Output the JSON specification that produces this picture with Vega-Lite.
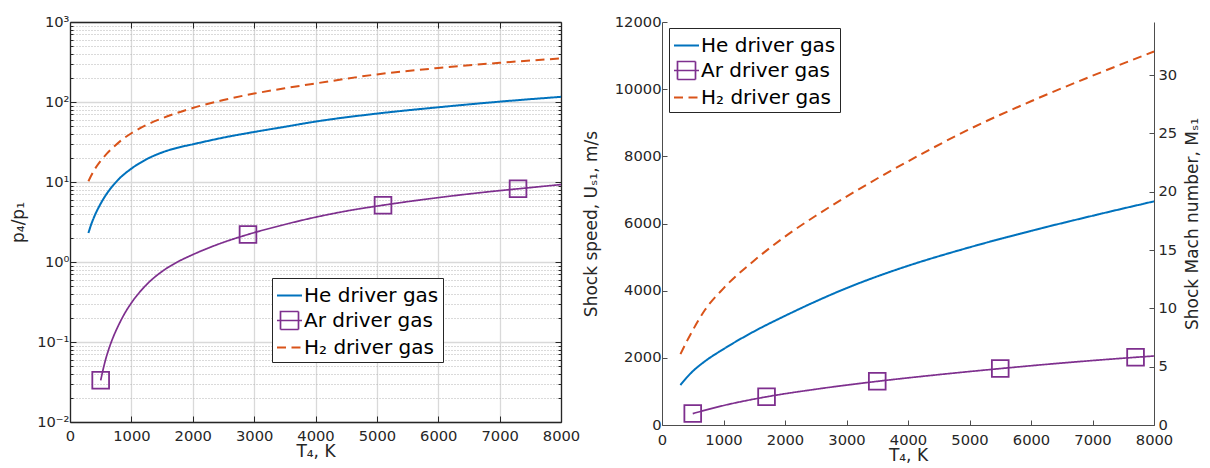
{
  "$schema": "https://vega.github.io/schema/vega-lite/v6.json",
  "background": "white",
  "padding": {"left": 9, "top": 14, "right": 0, "bottom": 0},
  "bounds": "flush",
  "spacing": 101,
  "datasets": {
    "pressureRatio": [
      {"gas": "He driver gas", "T": 300, "p41": 2.3},
      {"gas": "He driver gas", "T": 350, "p41": 3.02},
      {"gas": "He driver gas", "T": 400, "p41": 3.76},
      {"gas": "He driver gas", "T": 500, "p41": 5.37},
      {"gas": "He driver gas", "T": 600, "p41": 7.16},
      {"gas": "He driver gas", "T": 700, "p41": 9.02},
      {"gas": "He driver gas", "T": 800, "p41": 10.96},
      {"gas": "He driver gas", "T": 1000, "p41": 14.7},
      {"gas": "He driver gas", "T": 1250, "p41": 19.3},
      {"gas": "He driver gas", "T": 1500, "p41": 23.4},
      {"gas": "He driver gas", "T": 1750, "p41": 26.8},
      {"gas": "He driver gas", "T": 2000, "p41": 29.6},
      {"gas": "He driver gas", "T": 2500, "p41": 35.9},
      {"gas": "He driver gas", "T": 3000, "p41": 42.2},
      {"gas": "He driver gas", "T": 3500, "p41": 49},
      {"gas": "He driver gas", "T": 4000, "p41": 56.9},
      {"gas": "He driver gas", "T": 5000, "p41": 71.6},
      {"gas": "He driver gas", "T": 6000, "p41": 85.9},
      {"gas": "He driver gas", "T": 7000, "p41": 101},
      {"gas": "He driver gas", "T": 8000, "p41": 116},
      {"gas": "Ar driver gas", "T": 500, "p41": 0.0332, "mk": 1},
      {"gas": "Ar driver gas", "T": 570, "p41": 0.0565},
      {"gas": "Ar driver gas", "T": 650, "p41": 0.0895},
      {"gas": "Ar driver gas", "T": 706, "p41": 0.116},
      {"gas": "Ar driver gas", "T": 800, "p41": 0.1675},
      {"gas": "Ar driver gas", "T": 900, "p41": 0.234},
      {"gas": "Ar driver gas", "T": 1000, "p41": 0.308},
      {"gas": "Ar driver gas", "T": 1250, "p41": 0.524},
      {"gas": "Ar driver gas", "T": 1500, "p41": 0.762},
      {"gas": "Ar driver gas", "T": 1750, "p41": 1.0},
      {"gas": "Ar driver gas", "T": 2000, "p41": 1.236},
      {"gas": "Ar driver gas", "T": 2450, "p41": 1.706},
      {"gas": "Ar driver gas", "T": 2900, "p41": 2.21, "mk": 1},
      {"gas": "Ar driver gas", "T": 3450, "p41": 2.88},
      {"gas": "Ar driver gas", "T": 4000, "p41": 3.63},
      {"gas": "Ar driver gas", "T": 4500, "p41": 4.33},
      {"gas": "Ar driver gas", "T": 5100, "p41": 5.13, "mk": 1},
      {"gas": "Ar driver gas", "T": 6000, "p41": 6.38},
      {"gas": "Ar driver gas", "T": 7000, "p41": 7.8},
      {"gas": "Ar driver gas", "T": 7300, "p41": 8.22, "mk": 1},
      {"gas": "Ar driver gas", "T": 8000, "p41": 9.29},
      {"gas": "H₂ driver gas", "T": 300, "p41": 10.2},
      {"gas": "H₂ driver gas", "T": 400, "p41": 14.3},
      {"gas": "H₂ driver gas", "T": 500, "p41": 18.4},
      {"gas": "H₂ driver gas", "T": 600, "p41": 22.6},
      {"gas": "H₂ driver gas", "T": 700, "p41": 26.9},
      {"gas": "H₂ driver gas", "T": 850, "p41": 33.9},
      {"gas": "H₂ driver gas", "T": 1000, "p41": 40.7},
      {"gas": "H₂ driver gas", "T": 1250, "p41": 51.9},
      {"gas": "H₂ driver gas", "T": 1500, "p41": 62.4},
      {"gas": "H₂ driver gas", "T": 2000, "p41": 84.1},
      {"gas": "H₂ driver gas", "T": 2500, "p41": 105.9},
      {"gas": "H₂ driver gas", "T": 3000, "p41": 127.4},
      {"gas": "H₂ driver gas", "T": 3500, "p41": 148.6},
      {"gas": "H₂ driver gas", "T": 4000, "p41": 170.6},
      {"gas": "H₂ driver gas", "T": 5000, "p41": 221.3},
      {"gas": "H₂ driver gas", "T": 6000, "p41": 266.1},
      {"gas": "H₂ driver gas", "T": 7000, "p41": 309},
      {"gas": "H₂ driver gas", "T": 8000, "p41": 350.8}
    ],
    "shockSpeed": [
      {"gas": "He driver gas", "T": 300, "Us": 1190},
      {"gas": "He driver gas", "T": 400, "Us": 1410},
      {"gas": "He driver gas", "T": 500, "Us": 1600},
      {"gas": "He driver gas", "T": 700, "Us": 1900},
      {"gas": "He driver gas", "T": 1000, "Us": 2260},
      {"gas": "He driver gas", "T": 1500, "Us": 2790},
      {"gas": "He driver gas", "T": 2000, "Us": 3250},
      {"gas": "He driver gas", "T": 2500, "Us": 3680},
      {"gas": "He driver gas", "T": 3000, "Us": 4075},
      {"gas": "He driver gas", "T": 3500, "Us": 4425},
      {"gas": "He driver gas", "T": 4000, "Us": 4740},
      {"gas": "He driver gas", "T": 5000, "Us": 5290},
      {"gas": "He driver gas", "T": 6000, "Us": 5780},
      {"gas": "He driver gas", "T": 7000, "Us": 6230},
      {"gas": "He driver gas", "T": 8000, "Us": 6660},
      {"gas": "Ar driver gas", "T": 500, "Us": 340, "mk": 1},
      {"gas": "Ar driver gas", "T": 1000, "Us": 580},
      {"gas": "Ar driver gas", "T": 1700, "Us": 840, "mk": 1},
      {"gas": "Ar driver gas", "T": 2500, "Us": 1065},
      {"gas": "Ar driver gas", "T": 3500, "Us": 1300, "mk": 1},
      {"gas": "Ar driver gas", "T": 4500, "Us": 1500},
      {"gas": "Ar driver gas", "T": 5500, "Us": 1680, "mk": 1},
      {"gas": "Ar driver gas", "T": 6500, "Us": 1845},
      {"gas": "Ar driver gas", "T": 7700, "Us": 2016, "mk": 1},
      {"gas": "Ar driver gas", "T": 8000, "Us": 2055},
      {"gas": "H₂ driver gas", "T": 300, "Us": 2110},
      {"gas": "H₂ driver gas", "T": 400, "Us": 2480},
      {"gas": "H₂ driver gas", "T": 500, "Us": 2820},
      {"gas": "H₂ driver gas", "T": 700, "Us": 3430},
      {"gas": "H₂ driver gas", "T": 1000, "Us": 4070},
      {"gas": "H₂ driver gas", "T": 1500, "Us": 4900},
      {"gas": "H₂ driver gas", "T": 2000, "Us": 5610},
      {"gas": "H₂ driver gas", "T": 2500, "Us": 6230},
      {"gas": "H₂ driver gas", "T": 3000, "Us": 6800},
      {"gas": "H₂ driver gas", "T": 3500, "Us": 7340},
      {"gas": "H₂ driver gas", "T": 4000, "Us": 7850},
      {"gas": "H₂ driver gas", "T": 5000, "Us": 8810},
      {"gas": "H₂ driver gas", "T": 6000, "Us": 9640},
      {"gas": "H₂ driver gas", "T": 7000, "Us": 10400},
      {"gas": "H₂ driver gas", "T": 8000, "Us": 11120}
    ]
  },
  "hconcat": [
    {
      "width": 491,
      "height": 400,
      "data": {"name": "pressureRatio"},
      "layer": [
        {
          "mark": {"type": "line", "strokeCap": "butt", "interpolate": "monotone"},
          "encoding": {
            "x": {
              "field": "T", "type": "quantitative",
              "scale": {"domain": [0, 8000], "nice": false, "zero": false},
              "axis": {
                "orient": "bottom",
                "values": [0, 1000, 2000, 3000, 4000, 5000, 6000, 7000, 8000],
                "format": "d",
                "tickSize": -6,
                "labelPadding": 12,
                "grid": true, "gridColor": "#d9d9d9", "gridWidth": 1.3,
                "domainWidth": 1.3,
                "title": "T₄, K", "titlePadding": 1
              }
            },
            "y": {
              "field": "p41", "type": "quantitative",
              "scale": {"type": "log", "domain": [0.01, 1000], "nice": false},
              "axis": {
                "orient": "left",
                "values": [0.01,0.02,0.03,0.04,0.05,0.06,0.07,0.08,0.09,0.1,0.2,0.3,0.4,0.5,0.6,0.7,0.8,0.9,1,2,3,4,5,6,7,8,9,10,20,30,40,50,60,70,80,90,100,200,300,400,500,600,700,800,900,1000],
                "labelExpr": "datum.value == 0.01 ? '10⁻²' : datum.value == 0.1 ? '10⁻¹' : datum.value == 1 ? '10⁰' : datum.value == 10 ? '10¹' : datum.value == 100 ? '10²' : datum.value == 1000 ? '10³' : ''",
                "tickSize": {"condition": {"test": "indexof([0.01,0.1,1,10,100,1000], datum.value) >= 0", "value": -6}, "value": -3},
                "labelPadding": 7,
                "grid": true,
                "gridColor": {"condition": {"test": "indexof([0.01,0.1,1,10,100,1000], datum.value) >= 0", "value": "#d9d9d9"}, "value": "#b5b5b5"},
                "gridDash": {"condition": {"test": "indexof([0.01,0.1,1,10,100,1000], datum.value) >= 0", "value": []}, "value": [1, 2]},
                "gridWidth": {"condition": {"test": "indexof([0.01,0.1,1,10,100,1000], datum.value) >= 0", "value": 1.3}, "value": 1},
                "domainWidth": 1.3,
                "title": "p₄/p₁", "titlePadding": 9
              }
            },
            "color": {
              "field": "gas", "type": "nominal",
              "scale": {"domain": ["He driver gas", "Ar driver gas", "H₂ driver gas"], "range": ["#0072BD", "#7E2F8E", "#D95319"]},
              "legend": {
                "orient": "none", "legendX": 202, "legendY": 256, "title": null,
                "fillColor": "white", "strokeColor": "#262626", "padding": 4,
                "labelFont": "DejaVu Sans", "labelFontSize": 20, "labelColor": "#000000", "labelOffset": 1, "labelLimit": 400,
                "symbolSize": 625, "symbolStrokeWidth": 2, "rowPadding": 1
              }
            },
            "strokeDash": {
              "field": "gas", "type": "nominal",
              "scale": {"domain": ["He driver gas", "Ar driver gas", "H₂ driver gas"], "range": [[1, 0], [1, 0], [9, 5.5]]},
              "legend": {
                "orient": "none", "legendX": 202, "legendY": 256, "title": null,
                "fillColor": "white", "strokeColor": "#262626", "padding": 4,
                "labelFont": "DejaVu Sans", "labelFontSize": 20, "labelColor": "#000000", "labelOffset": 1, "labelLimit": 400,
                "symbolSize": 625, "symbolStrokeWidth": 2, "rowPadding": 1
              }
            },
            "strokeWidth": {
              "field": "gas", "type": "nominal",
              "scale": {"type": "ordinal", "domain": ["He driver gas", "Ar driver gas", "H₂ driver gas"], "range": [2, 1.7, 2]},
              "legend": null
            }
          }
        },
        {
          "transform": [{"filter": "datum.mk == 1"}],
          "mark": {"type": "point", "shape": "square", "size": 280, "filled": false, "color": "#7E2F8E", "strokeWidth": 1.8, "opacity": 1},
          "encoding": {
            "x": {
              "field": "T", "type": "quantitative",
              "axis": {"orient": "top", "values": [1000, 2000, 3000, 4000, 5000, 6000, 7000], "labels": false, "tickSize": -6, "grid": false, "domainWidth": 1.3, "title": null}
            },
            "y": {
              "field": "p41", "type": "quantitative",
              "axis": {
                "orient": "right",
                "values": [0.01,0.02,0.03,0.04,0.05,0.06,0.07,0.08,0.09,0.1,0.2,0.3,0.4,0.5,0.6,0.7,0.8,0.9,1,2,3,4,5,6,7,8,9,10,20,30,40,50,60,70,80,90,100,200,300,400,500,600,700,800,900,1000],
                "labels": false, "grid": false, "domainWidth": 1.3, "title": null,
                "tickSize": {"condition": {"test": "indexof([0.01,0.1,1,10,100,1000], datum.value) >= 0", "value": -6}, "value": -3}
              }
            }
          }
        },
        {
          "transform": [{"filter": "false"}],
          "mark": {"type": "point", "filled": false, "opacity": 1},
          "encoding": {
            "color": {"field": "gas", "type": "nominal"},
            "shape": {
              "field": "gas", "type": "nominal",
              "scale": {"domain": ["He driver gas", "Ar driver gas", "H₂ driver gas"], "range": ["stroke", "M-1,0H1M-0.72,-0.72H0.72V0.72H-0.72Z", "stroke"]},
              "legend": {
                "orient": "none", "legendX": 202, "legendY": 256, "title": null,
                "fillColor": "white", "strokeColor": "#262626", "padding": 4,
                "labelFont": "DejaVu Sans", "labelFontSize": 20, "labelColor": "#000000", "labelOffset": 1, "labelLimit": 400,
                "symbolSize": 625, "symbolStrokeWidth": 2, "rowPadding": 1
              }
            }
          }
        }
      ],
      "resolve": {"axis": {"x": "independent", "y": "independent"}}
    },
    {
      "width": 492,
      "height": 403,
      "layer": [
        {
          "data": {"name": "shockSpeed"},
          "mark": {"type": "line", "strokeCap": "butt", "interpolate": "monotone"},
          "encoding": {
            "x": {
              "field": "T", "type": "quantitative",
              "scale": {"domain": [0, 8000], "nice": false, "zero": false},
              "axis": {
                "orient": "bottom",
                "values": [0, 1000, 2000, 3000, 4000, 5000, 6000, 7000, 8000],
                "format": "d", "tickSize": -5, "labelPadding": 12,
                "domainColor": "#4d4d4d", "tickColor": "#4d4d4d",
                "title": "T₄, K", "titlePadding": 1
              }
            },
            "y": {
              "field": "Us", "type": "quantitative",
              "scale": {"domain": [0, 12000], "nice": false},
              "axis": {
                "orient": "left",
                "values": [0, 2000, 4000, 6000, 8000, 10000, 12000],
                "format": "d", "tickSize": -5, "labelPadding": 6,
                "domainColor": "#4d4d4d", "tickColor": "#4d4d4d",
                "title": "Shock speed, Uₛ₁, m/s", "titlePadding": 14
              }
            },
            "color": {
              "field": "gas", "type": "nominal",
              "scale": {"domain": ["He driver gas", "Ar driver gas", "H₂ driver gas"], "range": ["#0072BD", "#7E2F8E", "#D95319"]},
              "legend": {
                "orient": "none", "legendX": 7, "legendY": 6, "title": null,
                "fillColor": "white", "strokeColor": "#262626", "padding": 4,
                "labelFont": "DejaVu Sans", "labelFontSize": 20, "labelColor": "#000000", "labelOffset": 1, "labelLimit": 400,
                "symbolSize": 625, "symbolStrokeWidth": 2, "rowPadding": 1
              }
            },
            "strokeDash": {
              "field": "gas", "type": "nominal",
              "scale": {"domain": ["He driver gas", "Ar driver gas", "H₂ driver gas"], "range": [[1, 0], [1, 0], [9, 5.5]]},
              "legend": {
                "orient": "none", "legendX": 7, "legendY": 6, "title": null,
                "fillColor": "white", "strokeColor": "#262626", "padding": 4,
                "labelFont": "DejaVu Sans", "labelFontSize": 20, "labelColor": "#000000", "labelOffset": 1, "labelLimit": 400,
                "symbolSize": 625, "symbolStrokeWidth": 2, "rowPadding": 1
              }
            },
            "strokeWidth": {
              "field": "gas", "type": "nominal",
              "scale": {"type": "ordinal", "domain": ["He driver gas", "Ar driver gas", "H₂ driver gas"], "range": [2, 1.7, 2]},
              "legend": null
            }
          }
        },
        {
          "data": {"name": "shockSpeed"},
          "transform": [{"filter": "datum.mk == 1"}],
          "mark": {"type": "point", "shape": "square", "size": 280, "filled": false, "color": "#7E2F8E", "strokeWidth": 1.8, "opacity": 1},
          "encoding": {
            "x": {"field": "T", "type": "quantitative"},
            "y": {"field": "Us", "type": "quantitative", "scale": {"domain": [0, 12000], "nice": false}, "axis": null}
          }
        },
        {
          "data": {"name": "shockSpeed"},
          "transform": [{"filter": "false"}],
          "mark": {"type": "point", "filled": false, "opacity": 1},
          "encoding": {
            "color": {"field": "gas", "type": "nominal"},
            "shape": {
              "field": "gas", "type": "nominal",
              "scale": {"domain": ["He driver gas", "Ar driver gas", "H₂ driver gas"], "range": ["stroke", "M-1,0H1M-0.72,-0.72H0.72V0.72H-0.72Z", "stroke"]},
              "legend": {
                "orient": "none", "legendX": 7, "legendY": 6, "title": null,
                "fillColor": "white", "strokeColor": "#262626", "padding": 4,
                "labelFont": "DejaVu Sans", "labelFontSize": 20, "labelColor": "#000000", "labelOffset": 1, "labelLimit": 400,
                "symbolSize": 625, "symbolStrokeWidth": 2, "rowPadding": 1
              }
            }
          }
        },
        {
          "data": {"values": [{}]},
          "mark": {"type": "rule", "opacity": 0},
          "encoding": {
            "y": {
              "datum": 0, "type": "quantitative",
              "scale": {"domain": [0, 34.56], "nice": false},
              "axis": {
                "orient": "right",
                "values": [0, 5, 10, 15, 20, 25, 30],
                "tickSize": -5, "labelPadding": 9,
                "domainColor": "#4d4d4d", "tickColor": "#4d4d4d",
                "title": "Shock Mach number, Mₛ₁", "titleAngle": 270, "titleBaseline": "top", "titlePadding": 8
              }
            }
          }
        }
      ],
      "resolve": {"scale": {"y": "independent"}}
    }
  ],
  "resolve": {
    "scale": {"color": "independent", "strokeDash": "independent", "shape": "independent", "strokeWidth": "independent"},
    "legend": {"color": "independent", "strokeDash": "independent", "shape": "independent"}
  },
  "config": {
    "view": {"stroke": null},
    "font": "DejaVu Sans",
    "axis": {
      "labelFont": "DejaVu Sans", "titleFont": "DejaVu Sans",
      "labelFontSize": 14.7, "titleFontSize": 17, "titleFontWeight": "normal",
      "labelColor": "#262626", "titleColor": "#262626",
      "domainColor": "#262626", "tickColor": "#262626",
      "labelFlush": false, "labelOverlap": false, "grid": false
    }
  }
}
